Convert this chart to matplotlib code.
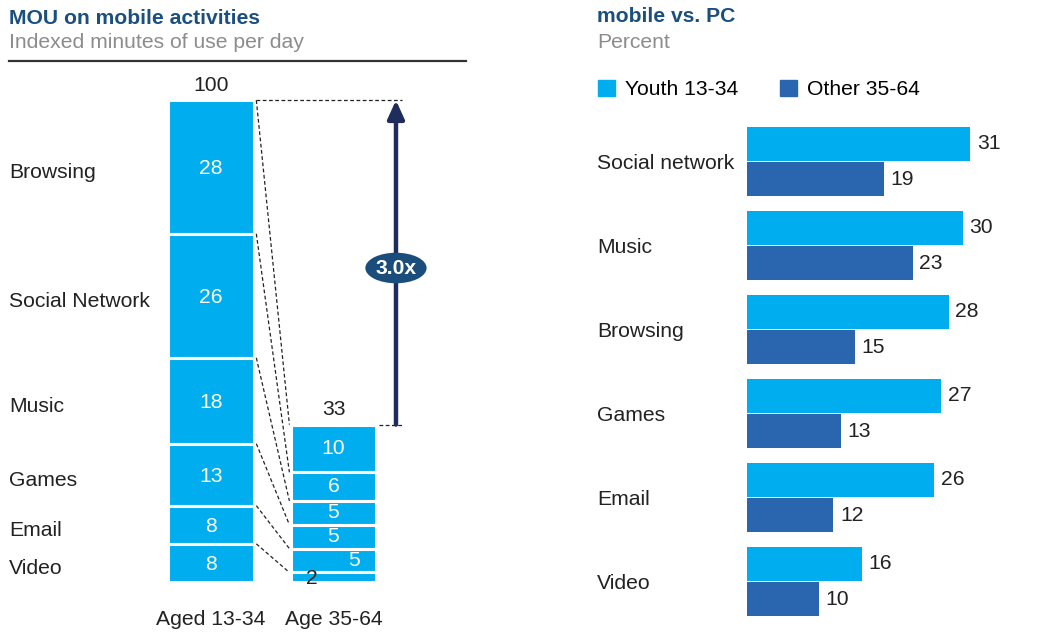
import matplotlib
matplotlib.use("Agg")
import numpy as np
import matplotlib.pyplot as plt
from matplotlib.patches import Ellipse
from matplotlib.lines import Line2D
from matplotlib.patches import Patch

plt.rcParams["font.family"] = ["Liberation Sans", "DejaVu Sans"]

# left chart: stacked index of minutes of use
activities = ["Browsing", "Social Network", "Music", "Games", "Email", "Video"]
youth_mou = [28, 26, 18, 13, 8, 8]
older_mou = [10, 6, 5, 5, 5, 2]
total_labels = [100, 33]
age_groups = ["Aged 13-34", "Age 35-64"]
ratio_label = "3.0x"

# right chart: share of time on mobile vs PC
share_cats = ["Social network", "Music", "Browsing", "Games", "Email", "Video"]
share_youth = [31, 30, 28, 27, 26, 16]
share_other = [19, 23, 15, 13, 12, 10]
legend_labels = ["Youth 13-34", "Other 35-64"]

LIGHT = "#00AEEF"
DARK = "#2A66AF"
TITLE = "#1B4F80"
GREY = "#8C8C8C"
INK = "#222222"
NAVY = "#1F2D5C"
FS = 15.2

W, H = 1042, 633
fig = plt.figure(figsize=(W / 100, H / 100), dpi=100)


def px_axes(x0, y0, x1, y1):
    return fig.add_axes([x0 / W, 1 - y1 / H, (x1 - x0) / W, (y1 - y0) / H])


# ---- titles ----
fig.text(9 / W, 1 - 18 / H, "MOU on mobile activities", fontsize=FS, fontweight="bold",
         color=TITLE, ha="left", va="center")
fig.text(9 / W, 1 - 43 / H, "Indexed minutes of use per day", fontsize=FS, color=GREY,
         ha="left", va="center")
fig.add_artist(Line2D([9 / W, 466 / W], [1 - 61 / H, 1 - 61 / H], color="#333333", lw=1.6))

fig.text(597 / W, 1 - 17 / H, "mobile vs. PC", fontsize=FS, fontweight="bold",
         color=TITLE, ha="left", va="center")
fig.text(597 / W, 1 - 43 / H, "Percent", fontsize=FS, color=GREY, ha="left", va="center")

# ---- left: stacked bars ----
ppu = 4.77  # pixels per index unit
ax = px_axes(0, 62, 470, 633)
ax.set_xlim(-211 / 122.5, (470 - 211) / 122.5)
ax.set_ylim((582 - 633) / ppu, (582 - 62) / ppu)
ax.axis("off")

bw = 0.70
totals = [sum(youth_mou), sum(older_mou)]
tops = {}
for i, vals in enumerate([youth_mou, older_mou]):
    top = totals[i]
    seg_tops = []
    for k, v in enumerate(vals):
        bottom = top - v
        ax.bar(i, v, bottom=bottom, width=bw, color=LIGHT, edgecolor="white", linewidth=2.2)
        seg_tops.append(top)
        mid = bottom + v / 2
        if i == 0:
            ax.text(i, mid - 0.4, str(v), color="white", fontsize=FS, ha="center", va="center")
            ax.text(-1.65, mid - 1.2, activities[k], color=INK, fontsize=FS, ha="left", va="center")
        elif k == len(vals) - 1:
            ax.text(i - 0.175, mid - 0.3, str(v), color=INK, fontsize=FS, ha="center", va="center")
        elif k == len(vals) - 2:
            ax.text(i + 0.17, mid, str(v), color="white", fontsize=FS, ha="center", va="center")
        else:
            ax.text(i, mid, str(v), color="white", fontsize=FS, ha="center", va="center")
        top = bottom
    tops[i] = seg_tops
    ax.text(i, totals[i] + 3.1, str(total_labels[i]), color=INK, fontsize=FS, ha="center", va="center")
    ax.text(i, -7.8, age_groups[i], color=INK, fontsize=FS, ha="center", va="center")

# dashed connectors between matching segments
for a, b in zip(tops[0], tops[1]):
    ax.plot([bw / 2 + 0.02, 1 - bw / 2 - 0.01], [a, b], ls=(0, (3, 2)), color="#222222", lw=0.9)

arrow_x = 1.51
ax.plot([bw / 2 + 0.02, arrow_x + 0.05], [totals[0]] * 2, ls=(0, (3, 2)), color="#222222", lw=0.9)
ax.plot([1 + bw / 2 + 0.02, arrow_x + 0.05], [totals[1]] * 2, ls=(0, (3, 2)), color="#222222", lw=0.9)
ax.annotate("", xy=(arrow_x, totals[0]), xytext=(arrow_x, totals[1]),
            arrowprops=dict(arrowstyle="-|>,head_length=1.1,head_width=0.5", color=NAVY, lw=3.2,
                            shrinkA=0, shrinkB=0))
ell_y = (582 - 268) / ppu
ax.add_patch(Ellipse((arrow_x, ell_y), 0.50, 6.4, facecolor="#1A4C7C", edgecolor="none", zorder=5))
ax.text(arrow_x, ell_y, ratio_label, color="white", fontsize=FS, fontweight="bold",
        ha="center", va="center", zorder=6)

# ---- right: horizontal bars ----
ax2 = px_axes(590, 100, 1042, 633)
ax2.set_xlim((590 - 747) / 7.2, (1042 - 747) / 7.2)
ax2.set_ylim((633 - 161.5) / 84, (100 - 161.5) / 84)
ax2.axis("off")

rows = np.arange(len(share_cats))
bh = 0.405
off = 0.21
ax2.barh(rows - off, share_youth, height=bh, color=LIGHT)
ax2.barh(rows + off, share_other, height=bh, color=DARK)
for r, (yv, ov) in enumerate(zip(share_youth, share_other)):
    ax2.text(yv + 0.9, r - off, str(yv), color=INK, fontsize=FS, ha="left", va="center")
    ax2.text(ov + 0.9, r + off, str(ov), color=INK, fontsize=FS, ha="left", va="center")
    ax2.text(0.0155, r + 0.02, share_cats[r], transform=ax2.get_yaxis_transform(), color=INK,
             fontsize=FS, ha="left", va="center")

handles = [Patch(color=LIGHT), Patch(color=DARK)]
fig.legend(handles, legend_labels, loc="center left", bbox_to_anchor=(598 / W, 1 - 89.5 / H),
           ncol=2, frameon=False, fontsize=FS, handlelength=0.82, handleheight=0.82,
           handletextpad=0.48, columnspacing=1.95, borderpad=0, borderaxespad=0)

fig.savefig("out.png", dpi=100)
